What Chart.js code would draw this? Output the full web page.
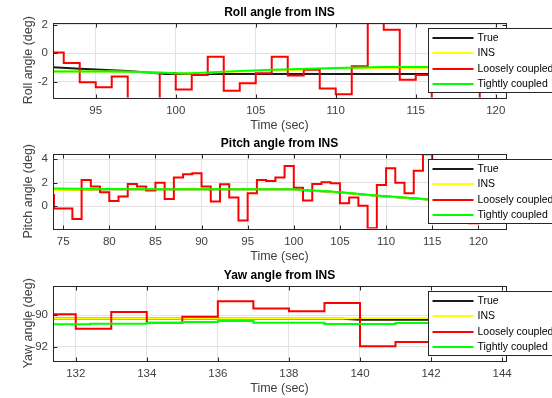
<!DOCTYPE html>
<html>
<head>
<meta charset="utf-8">
<script src="https://cdn.jsdelivr.net/npm/chart.js@4/dist/chart.umd.min.js"></script>
<style>
  html, body { margin: 0; padding: 0; background: #fff; overflow: hidden; }
  canvas { position: absolute; left: 0; }
</style>
</head>
<body>
<canvas id="rollChart" width="552" height="136" style="top:0px"></canvas>
<canvas id="pitchChart" width="552" height="136" style="top:131px"></canvas>
<canvas id="yawChart" width="552" height="136" style="top:263px"></canvas>
<script>
// series names, shared by all three plots
const seriesNames = ["True", "INS", "Loosely coupled", "Tightly coupled"];
const seriesColors = ["#1a1a1a", "#ffff00", "#ff0000", "#00ff00"];

// ---- Roll ----
const rollXRange = [92.33, 120.64];
const rollYRange = [-3.12, 2.12];
const rollXTicks = [95, 100, 105, 110, 115, 120];
const rollYTicks = [-2, 0, 2];
const rollLooseTime = [92.33, 93, 94, 95, 96, 97, 99, 100, 101, 102, 103, 104, 105, 106, 107, 108, 109, 110, 111, 112, 113, 114, 115, 116, 119, 120.64];
const rollLoose = [0.05, -0.7, -2.05, -2.4, -1.65, -4.5, -1.4, -2.55, -1.53, -0.26, -2.65, -2.12, -1.41, -0.26, -1.57, -1.17, -2.48, -2.9, -0.93, 3.5, 1.64, -1.88, -1.53, -4.5, -1.0, -1.0];
const rollTime = [92.33, 94, 96, 97, 98, 99.4, 100, 101, 103, 106, 110, 113, 116, 120.64];
const rollTrue = [-1.0, -1.1, -1.2, -1.25, -1.35, -1.47, -1.47, -1.47, -1.47, -1.47, -1.47, -1.47, -1.47, -1.47];
const rollIns = [-1.28, -1.3, -1.3, -1.31, -1.34, -1.39, -1.42, -1.43, -1.32, -1.22, -1.1, -1.05, -1.05, -1.02];
const rollTight = [-1.3, -1.3, -1.3, -1.31, -1.33, -1.38, -1.41, -1.42, -1.3, -1.17, -1.05, -0.98, -0.98, -0.95];

// ---- Pitch ----
const pitchXRange = [73.9, 123];
const pitchYRange = [-1.9, 4.45];
const pitchXTicks = [75, 80, 85, 90, 95, 100, 105, 110, 115, 120];
const pitchYTicks = [0, 2, 4];
const pitchLooseTime = [73.9, 74, 76, 77, 78, 79, 80, 81, 82, 83, 84, 85, 86, 87, 88, 89, 90, 91, 92, 93, 94, 95, 96, 97, 98, 99, 100, 101, 102, 103, 104, 105, 106, 107, 108, 109, 110, 111, 112, 113, 114, 115, 116, 117, 118, 119, 120, 123];
const pitchLoose = [0.96, -0.2, -1.08, 2.24, 1.67, 1.19, 0.45, 0.82, 1.9, 1.67, 1.33, 2.0, 0.62, 2.44, 2.72, 2.8, 1.67, 0.4, 1.87, 0.74, -1.22, 1.1, 2.24, 2.15, 2.44, 3.43, 1.58, 0.48, 1.9, 2.04, 1.96, 0.26, 0.74, 0.03, -1.87, 1.81, 3.23, 2.01, 1.1, 3.03, 4.42, 1.0, 2.0, 1.0, 0.5, -1.45, 1.0, 1.0];
const pitchTime = [73.9, 77, 80, 85, 100, 101, 104, 106, 108, 110, 112, 114.5, 118, 123];
const pitchTrue = [1.38, 1.4, 1.45, 1.45, 1.45, 1.36, 1.24, 1.1, 0.95, 0.83, 0.72, 0.58, 0.48, 0.38];
const pitchIns = [1.38, 1.4, 1.45, 1.45, 1.45, 1.36, 1.24, 1.1, 0.95, 0.83, 0.72, 0.58, 0.48, 0.38];
const pitchTight = [1.5, 1.48, 1.46, 1.45, 1.45, 1.38, 1.26, 1.12, 0.97, 0.85, 0.75, 0.6, 0.5, 0.4];

// ---- Yaw ----
const yawXRange = [131.36, 144.11];
const yawYRange = [-92.86, -88.15];
const yawXTicks = [132, 134, 136, 138, 140, 142, 144];
const yawYTicks = [-92, -90];
const yawLooseTime = [131.36, 132, 133, 134, 135, 136, 137, 138, 139, 140, 141, 142, 143, 144.11];
const yawLoose = [-89.94, -90.85, -89.79, -90.47, -90.09, -89.11, -89.58, -89.75, -89.22, -91.96, -91.69, -91.6, -91.5, -91.5];
const yawTightTime = [131.36, 132.4, 134, 135, 136, 137, 139, 141, 144.11];
const yawTight = [-90.57, -90.53, -90.49, -90.42, -90.36, -90.47, -90.55, -90.49, -90.49];
const yawTime = [131.36, 139.5, 140, 144.11];
const yawTrue = [-90.21, -90.22, -90.28, -90.28];
const yawIns = [-90.21, -90.2, -90.18, -90.18];

Chart.defaults.font.family = '"Liberation Sans", Arial, sans-serif';
Chart.defaults.animation = false;

function pts(xs, ys) {
  return xs.map((x, i) => ({ x: x, y: ys[i] }));
}

// MATLAB style box with inward ticks, and the legend box on top
const matlabAxes = {
  id: "matlabAxes",
  afterDatasetsDraw(chart) {
    const a = chart.chartArea;
    const ctx = chart.ctx;
    const L = Math.round(a.left) + 0.5, R = Math.round(a.right) + 0.5;
    const T = Math.round(a.top) + 0.5, B = Math.round(a.bottom) + 0.5;
    ctx.save();
    ctx.strokeStyle = "#262626";
    ctx.lineWidth = 1;
    ctx.beginPath();
    chart.scales.x.ticks.forEach((t) => {
      const px = Math.round(chart.scales.x.getPixelForValue(t.value)) + 0.5;
      ctx.moveTo(px, B); ctx.lineTo(px, B - 4);
      ctx.moveTo(px, T); ctx.lineTo(px, T + 4);
    });
    chart.scales.y.ticks.forEach((t) => {
      const py = Math.round(chart.scales.y.getPixelForValue(t.value)) + 0.5;
      ctx.moveTo(L, py); ctx.lineTo(L + 4, py);
      ctx.moveTo(R, py); ctx.lineTo(R - 4, py);
    });
    ctx.stroke();
    ctx.strokeRect(L, T, R - L, B - T);
    ctx.restore();
  },
  afterDraw(chart) {
    const a = chart.chartArea;
    const ctx = chart.ctx;
    const lx = 428.5, ly = Math.round(a.top + 5) + 0.5;
    ctx.save();
    ctx.fillStyle = "#fff";
    ctx.fillRect(lx, ly, 200, 64);
    ctx.strokeStyle = "#262626";
    ctx.lineWidth = 1;
    ctx.strokeRect(lx, ly, 200, 64);
    ctx.font = '10.5px "Liberation Sans", Arial, sans-serif';
    ctx.textBaseline = "middle";
    seriesNames.forEach((name, i) => {
      const y = Math.round(ly + 9.5 + i * 15.4);
      ctx.strokeStyle = seriesColors[i];
      ctx.lineWidth = 2;
      ctx.beginPath();
      ctx.moveTo(lx + 4, y);
      ctx.lineTo(lx + 45, y);
      ctx.stroke();
      ctx.fillStyle = "#000";
      ctx.fillText(name, lx + 49, y);
    });
    ctx.restore();
  }
};

function makeChart(id, title, yLabel, xRange, yRange, xTicks, yTicks, datasets) {
  const ctx = document.getElementById(id).getContext("2d");
  return new Chart(ctx, {
    type: "line",
    data: { datasets: datasets },
    options: {
      responsive: false,
      layout: { padding: { left: 0, right: 46, top: 0, bottom: 0 } },
      elements: { point: { radius: 0 }, line: { tension: 0 } },
      plugins: {
        legend: { display: false },
        tooltip: { enabled: false },
        title: {
          display: true,
          text: title,
          fullSize: false,
          color: "#000",
          font: { size: 12, weight: "bold" },
          padding: { top: 5.5, bottom: 3.1 }
        }
      },
      scales: {
        x: {
          type: "linear",
          min: xRange[0],
          max: xRange[1],
          afterBuildTicks: (s) => { s.ticks = xTicks.map((v) => ({ value: v })); },
          afterFit: (s) => { s.height = 38.5; },
          grid: { color: "#e3e3e3", drawTicks: false },
          border: { display: false },
          ticks: { color: "#404040", font: { size: 11.5 }, padding: 6, maxRotation: 0, autoSkip: false, callback: (v) => v },
          title: { display: true, text: "Time (sec)", color: "#404040", font: { size: 12.5 }, padding: { top: 0, bottom: 2.5 } }
        },
        y: {
          min: yRange[0],
          max: yRange[1],
          afterBuildTicks: (s) => { s.ticks = yTicks.map((v) => ({ value: v })); },
          afterFit: (s) => { s.width = 53; },
          grid: { color: "#e3e3e3", drawTicks: false },
          border: { display: false },
          ticks: { color: "#404040", font: { size: 11.5 }, padding: 5, callback: (v) => v },
          title: { display: true, text: yLabel, color: "#404040", font: { size: 12.5 }, padding: { top: 21.5, bottom: 0 } }
        }
      }
    },
    plugins: [matlabAxes]
  });
}

function lineSet(i, data, stepped, order) {
  return {
    label: seriesNames[i],
    data: data,
    borderColor: seriesColors[i],
    borderWidth: 2,
    stepped: stepped,
    order: order,
    clip: 0
  };
}

makeChart("rollChart", "Roll angle from INS", "Roll angle (deg)", rollXRange, rollYRange, rollXTicks, rollYTicks, [
  lineSet(0, pts(rollTime, rollTrue), false, 3),
  lineSet(1, pts(rollTime, rollIns), false, 2),
  lineSet(2, pts(rollLooseTime, rollLoose), "before", 1),
  lineSet(3, pts(rollTime, rollTight), false, 0)
]);

makeChart("pitchChart", "Pitch angle from INS", "Pitch angle (deg)", pitchXRange, pitchYRange, pitchXTicks, pitchYTicks, [
  lineSet(0, pts(pitchTime, pitchTrue), false, 3),
  lineSet(1, pts(pitchTime, pitchIns), false, 2),
  lineSet(2, pts(pitchLooseTime, pitchLoose), "before", 1),
  lineSet(3, pts(pitchTime, pitchTight), false, 0)
]);

makeChart("yawChart", "Yaw angle from INS", "Yaw angle (deg)", yawXRange, yawYRange, yawXTicks, yawYTicks, [
  lineSet(0, pts(yawTime, yawTrue), false, 3),
  lineSet(1, pts(yawTime, yawIns), false, 2),
  lineSet(2, pts(yawLooseTime, yawLoose), "before", 1),
  lineSet(3, pts(yawTightTime, yawTight), "before", 0)
]);
</script>
</body>
</html>
